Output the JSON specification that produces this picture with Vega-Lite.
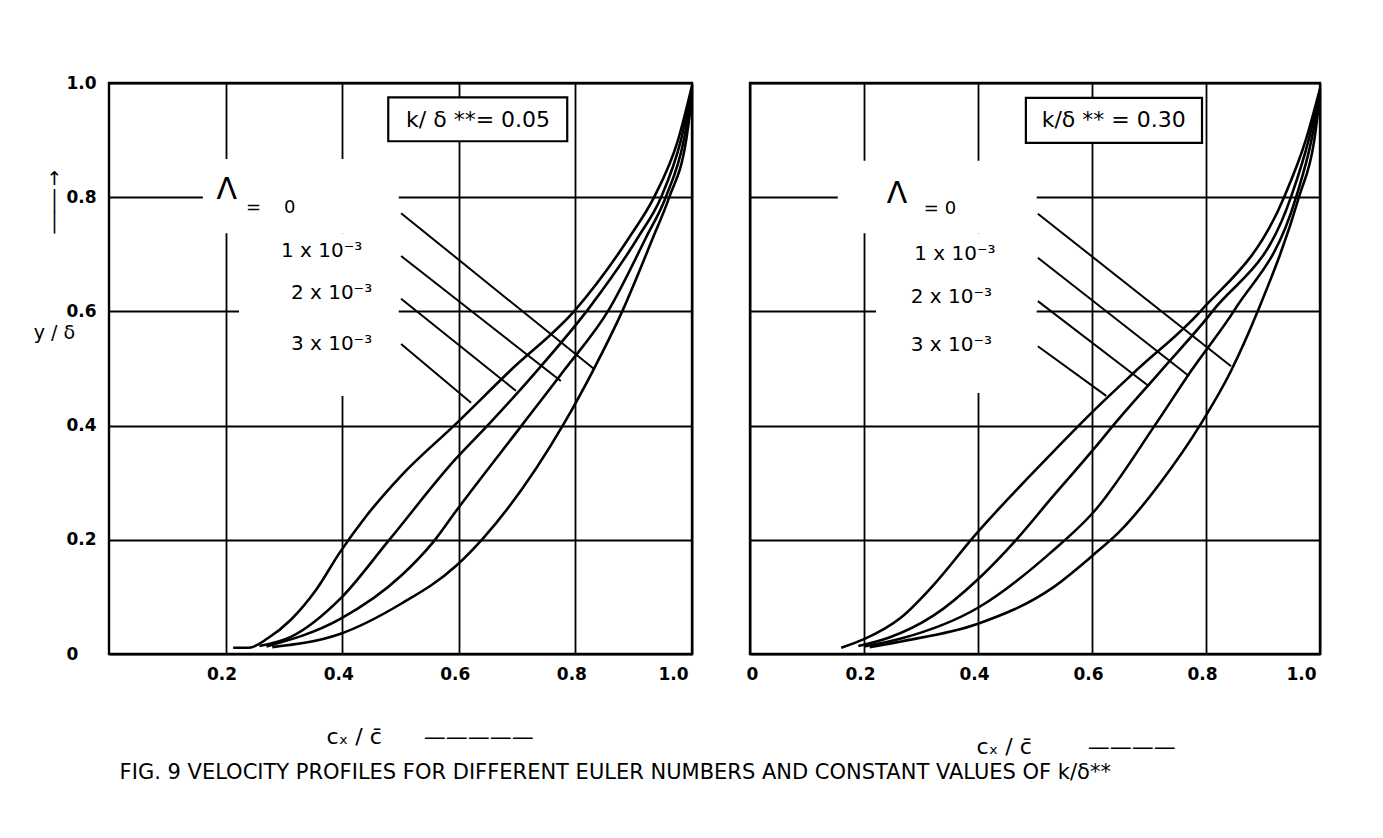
{
  "$schema": "https://vega.github.io/schema/vega-lite/v6.json",
  "background": "white",
  "autosize": {"type": "pad"},
  "padding": {"left": 32, "top": 72, "right": 10, "bottom": 10},
  "bounds": "flush",
  "spacing": 58,
  "config": {
    "font": "DejaVu Sans",
    "view": {"stroke": "black", "strokeWidth": 2.4},
    "axis": {
      "grid": true,
      "gridColor": "black",
      "gridWidth": 1.8,
      "gridOpacity": 1,
      "domain": false,
      "ticks": false,
      "labelFont": "DejaVu Sans",
      "labelFontSize": 17,
      "labelFontWeight": "bold",
      "labelColor": "black",
      "titleColor": "black",
      "titleFont": "DejaVu Sans",
      "titleFontWeight": "normal"
    }
  },
  "title": {
    "text": "FIG. 9 VELOCITY PROFILES FOR DIFFERENT EULER NUMBERS AND CONSTANT VALUES OF k/δ**",
    "orient": "bottom",
    "anchor": "middle",
    "font": "DejaVu Sans",
    "fontSize": 21,
    "fontWeight": "normal",
    "color": "black",
    "offset": 4,
    "dx": -64
  },
  "datasets": {
    "profiles": [
      {"panel": "L", "lam": "3", "x": 0.213, "y": 0.011},
      {"panel": "L", "lam": "3", "x": 0.240, "y": 0.011},
      {"panel": "L", "lam": "3", "x": 0.273, "y": 0.028},
      {"panel": "L", "lam": "3", "x": 0.312, "y": 0.060},
      {"panel": "L", "lam": "3", "x": 0.355, "y": 0.112},
      {"panel": "L", "lam": "3", "x": 0.396, "y": 0.178},
      {"panel": "L", "lam": "3", "x": 0.440, "y": 0.240},
      {"panel": "L", "lam": "3", "x": 0.501, "y": 0.312},
      {"panel": "L", "lam": "3", "x": 0.595, "y": 0.403},
      {"panel": "L", "lam": "3", "x": 0.688, "y": 0.496},
      {"panel": "L", "lam": "3", "x": 0.801, "y": 0.604},
      {"panel": "L", "lam": "3", "x": 0.892, "y": 0.729},
      {"panel": "L", "lam": "3", "x": 0.935, "y": 0.800},
      {"panel": "L", "lam": "3", "x": 0.976, "y": 0.900},
      {"panel": "L", "lam": "3", "x": 1.000, "y": 0.995},

      {"panel": "L", "lam": "2", "x": 0.258, "y": 0.014},
      {"panel": "L", "lam": "2", "x": 0.312, "y": 0.030},
      {"panel": "L", "lam": "2", "x": 0.396, "y": 0.096},
      {"panel": "L", "lam": "2", "x": 0.480, "y": 0.199},
      {"panel": "L", "lam": "2", "x": 0.595, "y": 0.342},
      {"panel": "L", "lam": "2", "x": 0.652, "y": 0.403},
      {"panel": "L", "lam": "2", "x": 0.734, "y": 0.496},
      {"panel": "L", "lam": "2", "x": 0.822, "y": 0.604},
      {"panel": "L", "lam": "2", "x": 0.907, "y": 0.729},
      {"panel": "L", "lam": "2", "x": 0.947, "y": 0.800},
      {"panel": "L", "lam": "2", "x": 0.981, "y": 0.900},
      {"panel": "L", "lam": "2", "x": 1.000, "y": 0.990},

      {"panel": "L", "lam": "1", "x": 0.270, "y": 0.013},
      {"panel": "L", "lam": "1", "x": 0.396, "y": 0.061},
      {"panel": "L", "lam": "1", "x": 0.501, "y": 0.137},
      {"panel": "L", "lam": "1", "x": 0.556, "y": 0.196},
      {"panel": "L", "lam": "1", "x": 0.595, "y": 0.250},
      {"panel": "L", "lam": "1", "x": 0.710, "y": 0.403},
      {"panel": "L", "lam": "1", "x": 0.780, "y": 0.496},
      {"panel": "L", "lam": "1", "x": 0.858, "y": 0.604},
      {"panel": "L", "lam": "1", "x": 0.921, "y": 0.729},
      {"panel": "L", "lam": "1", "x": 0.955, "y": 0.800},
      {"panel": "L", "lam": "1", "x": 0.986, "y": 0.900},
      {"panel": "L", "lam": "1", "x": 1.000, "y": 0.985},

      {"panel": "L", "lam": "0", "x": 0.280, "y": 0.012},
      {"panel": "L", "lam": "0", "x": 0.396, "y": 0.035},
      {"panel": "L", "lam": "0", "x": 0.501, "y": 0.088},
      {"panel": "L", "lam": "0", "x": 0.595, "y": 0.154},
      {"panel": "L", "lam": "0", "x": 0.642, "y": 0.203},
      {"panel": "L", "lam": "0", "x": 0.780, "y": 0.403},
      {"panel": "L", "lam": "0", "x": 0.830, "y": 0.496},
      {"panel": "L", "lam": "0", "x": 0.882, "y": 0.604},
      {"panel": "L", "lam": "0", "x": 0.933, "y": 0.729},
      {"panel": "L", "lam": "0", "x": 0.961, "y": 0.800},
      {"panel": "L", "lam": "0", "x": 0.990, "y": 0.900},
      {"panel": "L", "lam": "0", "x": 1.000, "y": 0.975},

      {"panel": "R", "lam": "3", "x": 0.160, "y": 0.011},
      {"panel": "R", "lam": "3", "x": 0.200, "y": 0.026},
      {"panel": "R", "lam": "3", "x": 0.265, "y": 0.064},
      {"panel": "R", "lam": "3", "x": 0.323, "y": 0.122},
      {"panel": "R", "lam": "3", "x": 0.393, "y": 0.206},
      {"panel": "R", "lam": "3", "x": 0.528, "y": 0.350},
      {"panel": "R", "lam": "3", "x": 0.604, "y": 0.427},
      {"panel": "R", "lam": "3", "x": 0.677, "y": 0.496},
      {"panel": "R", "lam": "3", "x": 0.791, "y": 0.601},
      {"panel": "R", "lam": "3", "x": 0.937, "y": 0.800},
      {"panel": "R", "lam": "3", "x": 0.975, "y": 0.900},
      {"panel": "R", "lam": "3", "x": 1.000, "y": 0.990},

      {"panel": "R", "lam": "2", "x": 0.190, "y": 0.014},
      {"panel": "R", "lam": "2", "x": 0.242, "y": 0.028},
      {"panel": "R", "lam": "2", "x": 0.323, "y": 0.068},
      {"panel": "R", "lam": "2", "x": 0.400, "y": 0.131},
      {"panel": "R", "lam": "2", "x": 0.467, "y": 0.200},
      {"panel": "R", "lam": "2", "x": 0.528, "y": 0.272},
      {"panel": "R", "lam": "2", "x": 0.604, "y": 0.360},
      {"panel": "R", "lam": "2", "x": 0.637, "y": 0.400},
      {"panel": "R", "lam": "2", "x": 0.721, "y": 0.496},
      {"panel": "R", "lam": "2", "x": 0.812, "y": 0.601},
      {"panel": "R", "lam": "2", "x": 0.949, "y": 0.800},
      {"panel": "R", "lam": "2", "x": 0.980, "y": 0.900},
      {"panel": "R", "lam": "2", "x": 1.000, "y": 0.988},

      {"panel": "R", "lam": "1", "x": 0.200, "y": 0.013},
      {"panel": "R", "lam": "1", "x": 0.265, "y": 0.027},
      {"panel": "R", "lam": "1", "x": 0.400, "y": 0.081},
      {"panel": "R", "lam": "1", "x": 0.528, "y": 0.178},
      {"panel": "R", "lam": "1", "x": 0.604, "y": 0.250},
      {"panel": "R", "lam": "1", "x": 0.712, "y": 0.403},
      {"panel": "R", "lam": "1", "x": 0.774, "y": 0.496},
      {"panel": "R", "lam": "1", "x": 0.851, "y": 0.604},
      {"panel": "R", "lam": "1", "x": 0.958, "y": 0.800},
      {"panel": "R", "lam": "1", "x": 0.985, "y": 0.900},
      {"panel": "R", "lam": "1", "x": 1.000, "y": 0.983},

      {"panel": "R", "lam": "0", "x": 0.210, "y": 0.012},
      {"panel": "R", "lam": "0", "x": 0.265, "y": 0.022},
      {"panel": "R", "lam": "0", "x": 0.400, "y": 0.053},
      {"panel": "R", "lam": "0", "x": 0.528, "y": 0.114},
      {"panel": "R", "lam": "0", "x": 0.604, "y": 0.175},
      {"panel": "R", "lam": "0", "x": 0.646, "y": 0.212},
      {"panel": "R", "lam": "0", "x": 0.720, "y": 0.300},
      {"panel": "R", "lam": "0", "x": 0.791, "y": 0.403},
      {"panel": "R", "lam": "0", "x": 0.844, "y": 0.496},
      {"panel": "R", "lam": "0", "x": 0.891, "y": 0.601},
      {"panel": "R", "lam": "0", "x": 0.963, "y": 0.800},
      {"panel": "R", "lam": "0", "x": 0.990, "y": 0.900},
      {"panel": "R", "lam": "0", "x": 1.000, "y": 0.978}
    ],
    "leaders": [
      {"panel": "L", "lam": "0", "x": 0.501, "y": 0.772, "x2": 0.832, "y2": 0.499},
      {"panel": "L", "lam": "1", "x": 0.501, "y": 0.697, "x2": 0.775, "y2": 0.478},
      {"panel": "L", "lam": "2", "x": 0.501, "y": 0.622, "x2": 0.698, "y2": 0.461},
      {"panel": "L", "lam": "3", "x": 0.501, "y": 0.543, "x2": 0.621, "y2": 0.440},
      {"panel": "R", "lam": "0", "x": 0.505, "y": 0.771, "x2": 0.844, "y2": 0.504},
      {"panel": "R", "lam": "1", "x": 0.505, "y": 0.694, "x2": 0.770, "y2": 0.487},
      {"panel": "R", "lam": "2", "x": 0.505, "y": 0.618, "x2": 0.700, "y2": 0.469},
      {"panel": "R", "lam": "3", "x": 0.505, "y": 0.539, "x2": 0.625, "y2": 0.452}
    ],
    "clearings": [
      {"panel": "L", "x": 0.161, "x2": 0.497, "y": 0.737, "y2": 0.867},
      {"panel": "L", "x": 0.223, "x2": 0.497, "y": 0.452, "y2": 0.737},
      {"panel": "R", "x": 0.154, "x2": 0.503, "y": 0.737, "y2": 0.864},
      {"panel": "R", "x": 0.221, "x2": 0.503, "y": 0.457, "y2": 0.737}
    ],
    "boxes": [
      {"panel": "L", "x": 0.479, "x2": 0.786, "y": 0.898, "y2": 0.975},
      {"panel": "R", "x": 0.484, "x2": 0.793, "y": 0.895, "y2": 0.974}
    ],
    "notes": [
      {"panel": "L", "kind": "box", "x": 0.633, "y": 0.935, "text": "k/ δ **= 0.05"},
      {"panel": "R", "kind": "box", "x": 0.638, "y": 0.935, "text": "k/δ ** = 0.30"},
      {"panel": "L", "kind": "sym", "x": 0.202, "y": 0.812, "text": "Λ"},
      {"panel": "R", "kind": "sym", "x": 0.258, "y": 0.805, "text": "Λ"},
      {"panel": "L", "kind": "eq", "x": 0.235, "y": 0.781, "text": "=\u00a0\u00a0\u00a0\u00a00"},
      {"panel": "R", "kind": "eq", "x": 0.305, "y": 0.779, "text": "=\u00a00"},
      {"panel": "L", "kind": "lam", "x": 0.295, "y": 0.706, "text": "1 x 10⁻³"},
      {"panel": "L", "kind": "lam", "x": 0.312, "y": 0.632, "text": "2 x 10⁻³"},
      {"panel": "L", "kind": "lam", "x": 0.312, "y": 0.543, "text": "3 x 10⁻³"},
      {"panel": "R", "kind": "lam", "x": 0.288, "y": 0.700, "text": "1 x 10⁻³"},
      {"panel": "R", "kind": "lam", "x": 0.282, "y": 0.625, "text": "2 x 10⁻³"},
      {"panel": "R", "kind": "lam", "x": 0.282, "y": 0.541, "text": "3 x 10⁻³"}
    ]
  },
  "hconcat": [
    {
      "width": 583,
      "height": 571,
      "encoding": {
        "x": {
          "field": "x", "type": "quantitative",
          "scale": {"domain": [0, 1], "nice": false},
          "axis": {
            "values": [0.2, 0.4, 0.6, 0.8, 1.0],
            "labelExpr": "datum.value === 0 ? '0' : format(datum.value, '.1f')",
            "labelPadding": 12,
            "labelOffset": -4,
            "title": "cₓ / c̄\u00a0\u00a0\u00a0\u00a0\u00a0\u00a0—————",
            "titleFontSize": 22,
            "titleAlign": "left",
            "titleBaseline": "middle",
            "titleX": 217,
            "titleY": 82
          }
        },
        "y": {
          "field": "y", "type": "quantitative",
          "scale": {"domain": [0, 1], "nice": false},
          "axis": {
            "values": [0, 0.2, 0.4, 0.6, 0.8, 1.0],
            "labelExpr": "datum.value === 0 ? '0' : format(datum.value, '.1f')",
            "labelAlign": "left",
            "labelPadding": 43,
            "title": ["↑", "│", "│", "\u2800", "\u2800", "\u2800", "\u2800", "y / δ"],
            "titleAngle": 0,
            "titleAlign": "center",
            "titleBaseline": "top",
            "titleFontSize": 19,
            "titleLineHeight": 22,
            "titleX": -55,
            "titleY": 86
          }
        }
      },
      "layer": [
        {
          "data": {"name": "clearings"},
          "transform": [{"filter": "datum.panel === 'L'"}],
          "mark": {"type": "rect", "fill": "white", "strokeWidth": 0},
          "encoding": {"x2": {"field": "x2"}, "y2": {"field": "y2"}}
        },
        {
          "data": {"name": "boxes"},
          "transform": [{"filter": "datum.panel === 'L'"}],
          "mark": {"type": "rect", "fill": "white", "stroke": "black", "strokeWidth": 2.2},
          "encoding": {"x2": {"field": "x2"}, "y2": {"field": "y2"}}
        },
        {
          "data": {"name": "profiles"},
          "transform": [{"filter": "datum.panel === 'L'"}],
          "mark": {"type": "line", "color": "black", "strokeWidth": 2.6, "interpolate": "monotone"},
          "encoding": {"detail": {"field": "lam"}}
        },
        {
          "data": {"name": "leaders"},
          "transform": [{"filter": "datum.panel === 'L'"}],
          "mark": {"type": "rule", "color": "black", "strokeWidth": 2},
          "encoding": {"x2": {"field": "x2"}, "y2": {"field": "y2"}}
        },
        {
          "data": {"name": "notes"},
          "transform": [{"filter": "datum.panel === 'L' && datum.kind === 'box'"}],
          "mark": {"type": "text", "fontSize": 22, "align": "center", "baseline": "middle", "color": "black"},
          "encoding": {"text": {"field": "text"}}
        },
        {
          "data": {"name": "notes"},
          "transform": [{"filter": "datum.panel === 'L' && datum.kind === 'sym'"}],
          "mark": {"type": "text", "fontSize": 30, "align": "center", "baseline": "middle", "color": "black"},
          "encoding": {"text": {"field": "text"}}
        },
        {
          "data": {"name": "notes"},
          "transform": [{"filter": "datum.panel === 'L' && datum.kind === 'eq'"}],
          "mark": {"type": "text", "fontSize": 18, "align": "left", "baseline": "middle", "color": "black"},
          "encoding": {"text": {"field": "text"}}
        },
        {
          "data": {"name": "notes"},
          "transform": [{"filter": "datum.panel === 'L' && datum.kind === 'lam'"}],
          "mark": {"type": "text", "fontSize": 20, "align": "left", "baseline": "middle", "color": "black"},
          "encoding": {"text": {"field": "text"}}
        }
      ]
    },
    {
      "width": 570,
      "height": 571,
      "encoding": {
        "x": {
          "field": "x", "type": "quantitative",
          "scale": {"domain": [0, 1], "nice": false},
          "axis": {
            "values": [0, 0.2, 0.4, 0.6, 0.8, 1.0],
            "labelExpr": "datum.value === 0 ? '0' : format(datum.value, '.1f')",
            "labelPadding": 12,
            "labelOffset": -4,
            "title": "cₓ / c̄\u00a0\u00a0\u00a0\u00a0\u00a0\u00a0\u00a0\u00a0————",
            "titleFontSize": 22,
            "titleAlign": "left",
            "titleBaseline": "middle",
            "titleX": 226,
            "titleY": 92
          }
        },
        "y": {
          "field": "y", "type": "quantitative",
          "scale": {"domain": [0, 1], "nice": false},
          "axis": {
            "values": [0, 0.2, 0.4, 0.6, 0.8, 1.0],
            "labels": false,
            "title": null
          }
        }
      },
      "layer": [
        {
          "data": {"name": "clearings"},
          "transform": [{"filter": "datum.panel === 'R'"}],
          "mark": {"type": "rect", "fill": "white", "strokeWidth": 0},
          "encoding": {"x2": {"field": "x2"}, "y2": {"field": "y2"}}
        },
        {
          "data": {"name": "boxes"},
          "transform": [{"filter": "datum.panel === 'R'"}],
          "mark": {"type": "rect", "fill": "white", "stroke": "black", "strokeWidth": 2.2},
          "encoding": {"x2": {"field": "x2"}, "y2": {"field": "y2"}}
        },
        {
          "data": {"name": "profiles"},
          "transform": [{"filter": "datum.panel === 'R'"}],
          "mark": {"type": "line", "color": "black", "strokeWidth": 2.6, "interpolate": "monotone"},
          "encoding": {"detail": {"field": "lam"}}
        },
        {
          "data": {"name": "leaders"},
          "transform": [{"filter": "datum.panel === 'R'"}],
          "mark": {"type": "rule", "color": "black", "strokeWidth": 2},
          "encoding": {"x2": {"field": "x2"}, "y2": {"field": "y2"}}
        },
        {
          "data": {"name": "notes"},
          "transform": [{"filter": "datum.panel === 'R' && datum.kind === 'box'"}],
          "mark": {"type": "text", "fontSize": 22, "align": "center", "baseline": "middle", "color": "black"},
          "encoding": {"text": {"field": "text"}}
        },
        {
          "data": {"name": "notes"},
          "transform": [{"filter": "datum.panel === 'R' && datum.kind === 'sym'"}],
          "mark": {"type": "text", "fontSize": 30, "align": "center", "baseline": "middle", "color": "black"},
          "encoding": {"text": {"field": "text"}}
        },
        {
          "data": {"name": "notes"},
          "transform": [{"filter": "datum.panel === 'R' && datum.kind === 'eq'"}],
          "mark": {"type": "text", "fontSize": 18, "align": "left", "baseline": "middle", "color": "black"},
          "encoding": {"text": {"field": "text"}}
        },
        {
          "data": {"name": "notes"},
          "transform": [{"filter": "datum.panel === 'R' && datum.kind === 'lam'"}],
          "mark": {"type": "text", "fontSize": 20, "align": "left", "baseline": "middle", "color": "black"},
          "encoding": {"text": {"field": "text"}}
        }
      ]
    }
  ]
}
